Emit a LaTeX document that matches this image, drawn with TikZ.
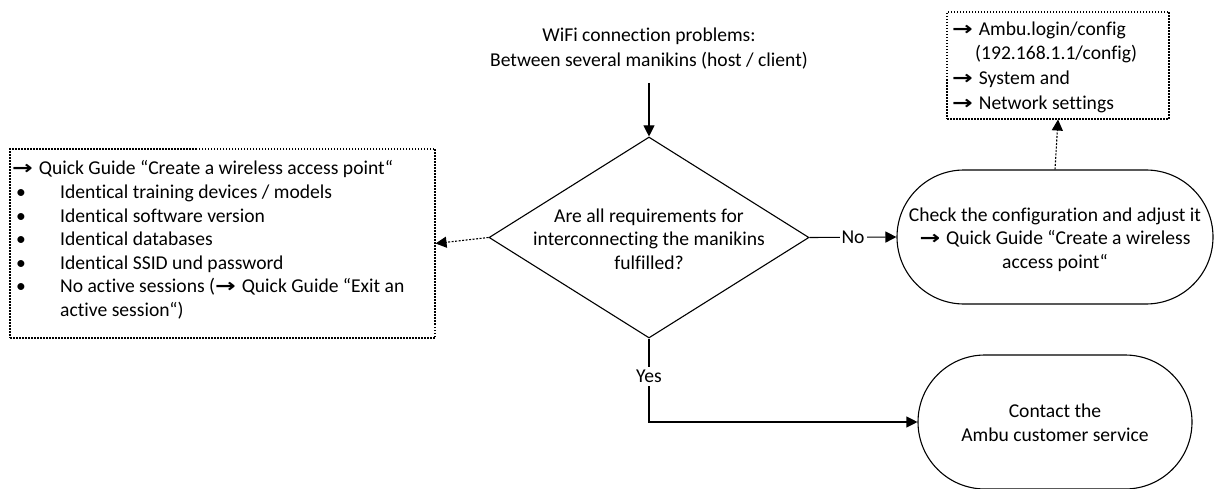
\documentclass[tikz,border=0pt]{standalone}
\usepackage{fontspec}
\usepackage{graphicx}
\setmainfont{Carlito}[Ligatures={NoCommon}]
\newfontfamily\djf{DejaVu Sans}
\usetikzlibrary{arrows.meta,shapes.geometric,shapes.misc}
\newcommand\rarr{{\djf\bfseries\fontsize{19}{19}\selectfont\scalebox{1.3}[1]{→}}\hspace{1.5pt}}
\begin{document}
\begin{tikzpicture}[x=1pt,y=-1pt,
  every node/.style={font=\fontsize{19.6}{23.6}\selectfont, inner sep=0pt},
  line/.style={line width=1.1pt,draw=black},
  arr/.style={line, -{Triangle[length=11pt,width=11pt]}},
  darr/.style={arr, dash pattern=on 2pt off 1.5pt},
  dbox/.style={draw, line width=1.1pt, dash pattern=on 1.5pt off 1.5pt, rectangle},
  decision/.style={draw, line width=1.1pt, diamond, minimum width=320pt, minimum height=201pt},
  terminal/.style={draw, line width=1.1pt, rounded rectangle, minimum height=134pt},
  txt/.style={align=center}
]
\useasboundingbox (0,0) rectangle (1215,489);

% title
\node[txt, font=\fontsize{19.6}{25}\selectfont] (t) at (649,49) {WiFi connection problems:\\Between several manikins (host / client)};
\coordinate (tin) at (649,83);

% decision
\node[decision] (q) at (649,237.5) {};
\node[txt] (qt) at (649,239) {Are all requirements for\\interconnecting the manikins\\fulfilled?};

% left dotted box
\node[dbox, minimum width=425pt, minimum height=189pt] (lb) at (222.5,243.5) {};
\node[align=left, anchor=north west] (lbt) at (12,160.5) {\rarr{} Quick Guide “Create a wireless access point“\\
\hspace*{4pt}\makebox[44pt][l]{\textbullet}Identical training devices / models\\
\hspace*{4pt}\makebox[44pt][l]{\textbullet}Identical software version\\
\hspace*{4pt}\makebox[44pt][l]{\textbullet}Identical databases\\
\hspace*{4pt}\makebox[44pt][l]{\textbullet}Identical SSID und password\\
\hspace*{4pt}\makebox[44pt][l]{\textbullet}No active sessions (\rarr{} Quick Guide “Exit an\\
\hspace*{48pt}active session“)};

% right top dotted box
\node[dbox, minimum width=222pt, minimum height=107pt] (rb) at (1058,65.5) {};
\node[align=left, anchor=north west, font=\fontsize{19.6}{24.6}\selectfont] (rbt) at (952,21.5) {\rarr{} Ambu.login/config\\
\hspace*{23pt}(192.168.1.1/config)\\
\rarr{} System and\\
\rarr{} Network settings};

% ovals
\node[terminal, minimum width=316pt] (o1) at (1055,237) {};
\node[txt] (o1t) at (1055,239.5) {Check the configuration and adjust it\\\rarr{} Quick Guide “Create a wireless\\access point“};
\node[terminal, minimum width=274pt] (o2) at (1055,422) {};
\node[txt] (o2t) at (1055,422.5) {Contact the\\Ambu customer service};

% connectors
\draw[arr] (tin) -- (q.north);
\draw[darr] (q.west) -- (lb.east);
\draw[arr] (q.east) -- node[fill=white, inner xsep=2pt, inner ysep=2pt] (no) {No} (o1.west);
\draw[darr] (o1.north) -- (rb.south);
\draw[arr] (q.south) |- node[pos=0.226, fill=white, inner xsep=2pt, inner ysep=3pt] (yes) {Yes} (o2.west);
\end{tikzpicture}
\end{document}
